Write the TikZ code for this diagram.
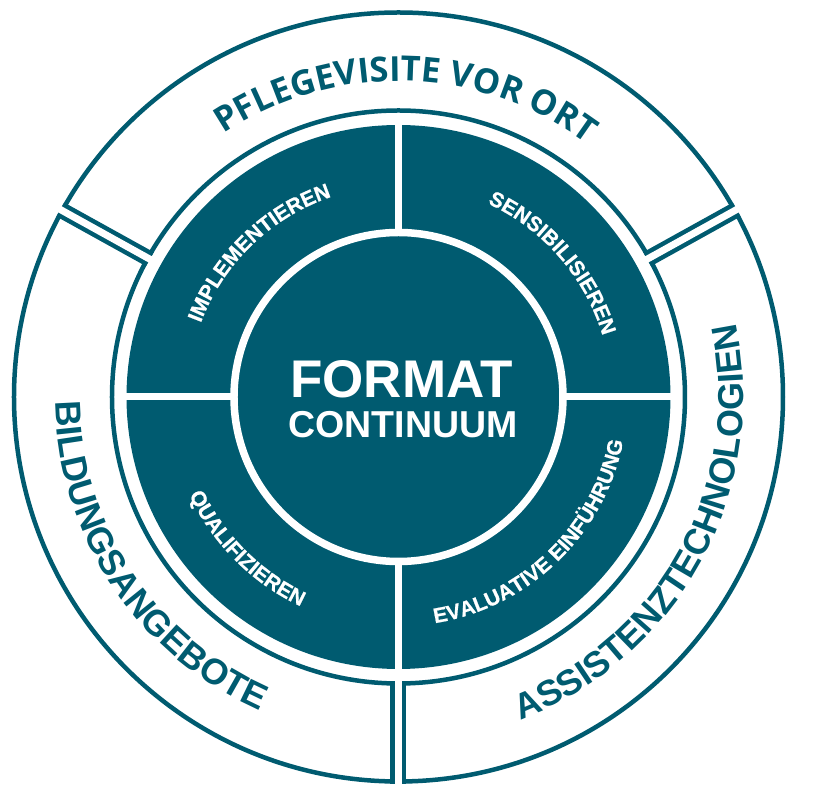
\documentclass[tikz,border=0pt]{standalone}
\usepackage{fontspec}
\setmainfont{Liberation Sans}
\newfontfamily\opensans{Open Sans}
\newfontfamily\heavysans{Liberation Sans}[UprightFont=*-Bold, FakeBold=0.8]
\usepackage{tikz}
\usetikzlibrary{decorations.text}
\definecolor{petrol}{RGB}{0,91,112}

\begin{document}
\begin{tikzpicture}[x=1pt,y=1pt,
    ring/.style={draw=petrol, line width=4.5pt},
    cut/.style={white, line width=7pt},
    outerlabel/.style={decorate, decoration={text along path, text align=center,
        text color=petrol, text={|\bfseries\fontsize{36}{36}\selectfont|#1}}},
    innerlabel/.style={decorate, decoration={text along path, text align=center,
        text color=white, text={|\heavysans\fontsize{21}{21}\selectfont|#1}}}]
    % Page size
    \useasboundingbox (-398.5,-394) rectangle (440.5,397);
    % Centre point
    \coordinate (M) at (0,0);
    % Outer ring
    \draw[ring] (M) circle (384.5);
    \draw[ring] (M) circle (286.5);
    % Gaps between the outer segments
    \foreach \a in {29,151,270} {
      \draw[petrol, line width=16pt] (\a:284.2) -- (\a:386.7);
      \draw[cut] (\a:280) -- (\a:392);
    }
    % Dark ring and centre disc
    \fill[petrol] (M) circle (272);
    \draw[cut, line width=7.5pt] (M) circle (164.5);
    \foreach \a in {0,90,180,270}
      \draw[cut] (\a:164) -- (\a:275);
    % Centre title
    \node[anchor=base, text=white, font=\bfseries\fontsize{53}{53}\selectfont] (format) at (3,-1) {FORMAT};
    \node[anchor=base, text=white, font=\bfseries\fontsize{37.5}{37.5}\selectfont] (continuum) at (4.5,-41) {CONTINUUM};
    % Labels of the outer ring
    \path[decorate, decoration={text along path, text align=center, text color=petrol,
        text={|\opensans\bfseries\fontsize{34.5}{34.5}\selectfont|PFLEGEVISITE VOR ORT}}]
      (148.5:316) arc[start angle=148.5, end angle=28.5, radius=316];
    \path[outerlabel={BILDUNGSANGEBOTE}] (163.5:343) arc[start angle=163.5, end angle=263.5, radius=343];
    \path[outerlabel={ASSISTENZTECHNOLOGIEN}] (281.5:345) arc[start angle=281.5, end angle=381.5, radius=345];
    % Labels of the dark ring
    \path[innerlabel={IMPLEMENTIEREN}] (179:211) arc[start angle=179, end angle=89, radius=211];
    \path[innerlabel={SENSIBILISIEREN}] (86:213) arc[start angle=86, end angle=-4, radius=213];
    \path[innerlabel={QUALIFIZIEREN}] (180:231) arc[start angle=180, end angle=270, radius=231];
    \path[innerlabel={EVALUATIVE EINFÜHRUNG}] (269:229) arc[start angle=269, end angle=359, radius=229];
\end{tikzpicture}
\end{document}
